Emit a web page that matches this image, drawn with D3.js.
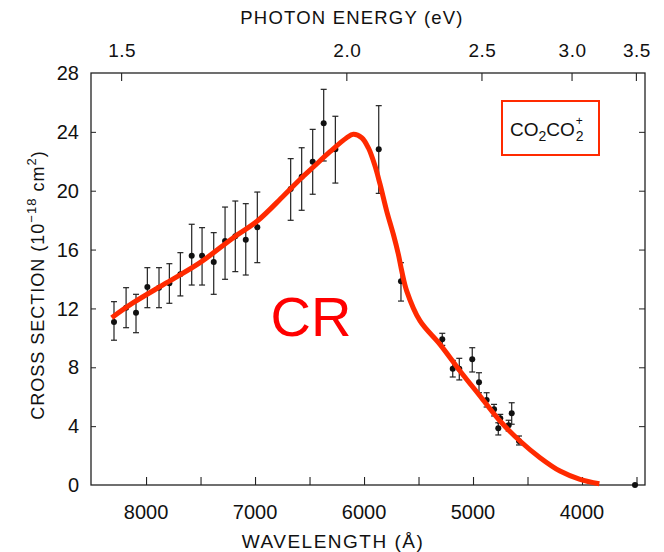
<!DOCTYPE html>
<html>
<head>
<meta charset="utf-8">
<script src="https://cdn.jsdelivr.net/npm/d3@7"></script>
<style>
  body { margin: 0; background: #fff; }
  svg { display: block; font-family: "Liberation Sans", Arial, sans-serif; }
</style>
</head>
<body>
<div id="chart"></div>
<script>
// measured points (wavelength in Å, cross section in 1e-18 cm^2)
const wavelength = [8294, 8183, 8092, 7988, 7881, 7786, 7685, 7581, 7486, 7379, 7275, 7181, 7085, 6979,
  6673, 6572, 6471, 6370, 6263, 5865, 5661,
  5282, 5186, 5126, 5007, 4945, 4875, 4807, 4750, 4768, 4673, 4645, 4578, 3514];
const crossSection = [11.08, 12.05, 11.71, 13.46, 13.41, 13.71, 14.32, 15.58, 15.58, 15.16, 16.58, 16.90, 16.67, 17.51,
  20.12, 20.95, 21.97, 24.58, 22.82, 22.82, 13.84,
  9.90, 7.90, 7.90, 8.54, 6.98, 5.78, 5.14, 4.53, 3.85, 4.06, 4.87, 2.99, 0];
const errLow = [9.84, 10.69, 10.35, 12.05, 12.05, 12.35, 12.85, 13.59, 13.59, 12.96, 13.98, 14.50, 14.27, 15.11,
  17.99, 18.67, 19.76, 22.02, 20.52, 19.82, 12.5,
  9.49, 7.34, 7.14, 7.68, 6.27, 5.30, 4.69, 4.19, 3.40, 3.67, 4.13, 2.72, 0];
const errHigh = [12.46, 13.41, 12.96, 14.77, 14.77, 15.04, 15.79, 17.72, 17.49, 17.15, 18.89, 19.30, 19.12, 19.91,
  22.18, 22.92, 24.17, 26.89, 25.06, 25.78, 15.11,
  10.31, 8.47, 8.61, 9.33, 7.63, 6.27, 5.48, 4.80, 4.23, 4.40, 5.59, 3.33, 0];

// fitted curve (red)
const curveWavelength = [8315, 8117, 7810, 7505, 7199, 6979, 6740, 6572, 6465, 6312, 6159, 6098, 6021, 5961,
  5899, 5853, 5792, 5731, 5685, 5654, 5608, 5486, 5303, 5119, 4936, 4752, 4569, 4385, 4202, 4018, 3841];
const curveValue = [11.37, 12.39, 13.75, 15.11, 16.81, 17.94, 19.64, 20.88, 21.61, 22.65, 23.60, 23.83, 23.60, 22.92,
  21.68, 20.44, 18.62, 17.04, 15.68, 14.55, 13.18, 11.15, 9.56, 7.75, 6.05, 4.35, 2.99, 1.86, 0.95, 0.39, 0.09];

const xTicks = [8000, 7500, 7000, 6500, 6000, 5500, 5000, 4500, 4000, 3500];
const xLabels = [8000, 7000, 6000, 5000, 4000];
const energyTicks = [1.5, 2.0, 2.5, 3.0, 3.5];
const yTicks = [0, 4, 8, 12, 16, 20, 24, 28];

const W = 664, H = 552;
const margin = {top: 73, right: 19, bottom: 67, left: 91};

const svg = d3.select('#chart').append('svg')
    .attr('width', W)
    .attr('height', H);

const x = d3.scaleLinear().domain([8505, 3422]).range([margin.left, W - margin.right]);
const y = d3.scaleLinear().domain([0, 28]).range([H - margin.bottom, margin.top]);

const ink = '#222';

// frame
svg.append('rect')
    .attr('x', x.range()[0]).attr('y', y.range()[1])
    .attr('width', x.range()[1] - x.range()[0])
    .attr('height', y.range()[0] - y.range()[1])
    .attr('fill', 'none').attr('stroke', ink).attr('stroke-width', 1.3);

// bottom axis, ticks pointing inward
const bottomAxis = d3.axisTop(x).tickValues(xTicks).tickSize(8).tickFormat('');
svg.append('g')
    .attr('transform', `translate(0,${y(0)})`)
    .call(bottomAxis)
    .call(g => g.select('.domain').remove())
    .call(g => g.selectAll('line').attr('stroke', ink).attr('stroke-width', 1.1));

svg.append('g').selectAll('text')
    .data(xLabels)
  .join('text')
    .attr('x', d => x(d))
    .attr('y', y(0) + 34)
    .attr('text-anchor', 'middle')
    .attr('font-size', 20)
    .attr('fill', '#111')
    .text(d => d);

// top axis: photon energy, converted to wavelength
const hc = 12398;
const topAxis = d3.axisBottom(x).tickValues(energyTicks.map(e => hc / e)).tickSize(8).tickFormat('');
const topG = svg.append('g')
    .attr('transform', `translate(4,${y(28)})`);
topG.call(topAxis)
    .call(g => g.select('.domain').remove())
    .call(g => g.selectAll('line').attr('stroke', ink).attr('stroke-width', 1.1));

topG.selectAll('.elabel')
    .data(energyTicks)
  .join('text')
    .attr('class', 'elabel')
    .attr('x', d => x(hc / d) + 1)
    .attr('y', -16)
    .attr('text-anchor', 'middle')
    .attr('font-size', 19)
    .attr('letter-spacing', 0.5)
    .attr('fill', '#111')
    .text(d => d.toFixed(1));

// left and right ticks, inward
svg.append('g')
    .attr('transform', `translate(${x.range()[0]},0)`)
    .call(d3.axisRight(y).tickValues(yTicks.slice(1, -1)).tickSize(5).tickFormat(''))
    .call(g => g.select('.domain').remove())
    .call(g => g.selectAll('line').attr('stroke', ink));
svg.append('g')
    .attr('transform', `translate(${x.range()[1]},0)`)
    .call(d3.axisLeft(y).tickValues(yTicks.slice(1, -1)).tickSize(6).tickFormat(''))
    .call(g => g.select('.domain').remove())
    .call(g => g.selectAll('line').attr('stroke', ink));

svg.append('g').selectAll('text')
    .data(yTicks)
  .join('text')
    .attr('x', x.range()[0] - 12)
    .attr('y', d => y(d))
    .attr('dy', '0.36em')
    .attr('text-anchor', 'end')
    .attr('font-size', 20)
    .attr('fill', '#111')
    .text(d => d);

// axis titles
svg.append('text')
    .attr('x', 352).attr('y', 24)
    .attr('text-anchor', 'middle')
    .attr('font-size', 18.5)
    .attr('letter-spacing', 1.2)
    .attr('fill', '#111')
    .text('PHOTON ENERGY (eV)');

svg.append('text')
    .attr('x', 333).attr('y', 548)
    .attr('text-anchor', 'middle')
    .attr('font-size', 19)
    .attr('letter-spacing', 1.5)
    .attr('fill', '#111')
    .text('WAVELENGTH (Å)');

const yTitle = svg.append('text')
    .attr('transform', 'translate(44,285) rotate(-90)')
    .attr('text-anchor', 'middle')
    .attr('font-size', 18)
    .attr('letter-spacing', 1)
    .attr('fill', '#111');
yTitle.append('tspan').text('CROSS SECTION (10');
yTitle.append('tspan').attr('dy', -8).attr('font-size', 13).text('−18');
yTitle.append('tspan').attr('dy', 8).text(' cm');
yTitle.append('tspan').attr('dy', -8).attr('font-size', 13).text('2');
yTitle.append('tspan').attr('dy', 8).text(')');

// error bars
const pts = wavelength.map((w, i) => ({w, v: crossSection[i], lo: errLow[i], hi: errHigh[i]}));
const bars = svg.append('g').attr('stroke', ink).attr('stroke-width', 1.2);
pts.filter(d => d.hi > d.lo).forEach(d => {
  bars.append('line').attr('x1', x(d.w)).attr('x2', x(d.w)).attr('y1', y(d.lo)).attr('y2', y(d.hi));
  bars.append('line').attr('x1', x(d.w) - 3).attr('x2', x(d.w) + 3).attr('y1', y(d.lo)).attr('y2', y(d.lo));
  bars.append('line').attr('x1', x(d.w) - 3).attr('x2', x(d.w) + 3).attr('y1', y(d.hi)).attr('y2', y(d.hi));
});

svg.append('g').selectAll('circle')
    .data(pts)
  .join('circle')
    .attr('cx', d => x(d.w))
    .attr('cy', d => y(d.v))
    .attr('r', 3)
    .attr('fill', '#111');

// red curve on top
const line = d3.line()
    .x(d => x(d[0]))
    .y(d => y(d[1]))
    .curve(d3.curveCatmullRom.alpha(0.5));
svg.append('path')
    .datum(curveWavelength.map((w, i) => [w, curveValue[i]]))
    .attr('d', line)
    .attr('fill', 'none')
    .attr('stroke', '#ff2a00')
    .attr('stroke-width', 5)
    .attr('stroke-linecap', 'butt');

// label box
svg.append('rect')
    .attr('x', 502).attr('y', 101)
    .attr('width', 97).attr('height', 54)
    .attr('fill', 'none')
    .attr('stroke', '#ff2a00')
    .attr('stroke-width', 2);

const lbl = svg.append('g').attr('fill', '#111');
const lblMain = lbl.append('text')
    .attr('x', 510).attr('y', 136)
    .attr('font-size', 19);
lblMain.append('tspan').text('CO');
lblMain.append('tspan').attr('dy', 5).attr('font-size', 14).text('2');
lblMain.append('tspan').attr('dy', -5).text('CO');
// stacked charge and subscript right after the second CO
const endX = 510 + lblMain.node().getComputedTextLength() + 1;
lbl.append('text')
    .attr('x', endX).attr('y', 125)
    .attr('font-size', 12)
    .text('+');
lbl.append('text')
    .attr('x', endX).attr('y', 141)
    .attr('font-size', 14)
    .text('2');

svg.append('text')
    .attr('x', 311).attr('y', 336)
    .attr('text-anchor', 'middle')
    .attr('font-size', 56)
    .attr('fill', '#ff0000')
    .text('CR');
</script>
</body>
</html>
